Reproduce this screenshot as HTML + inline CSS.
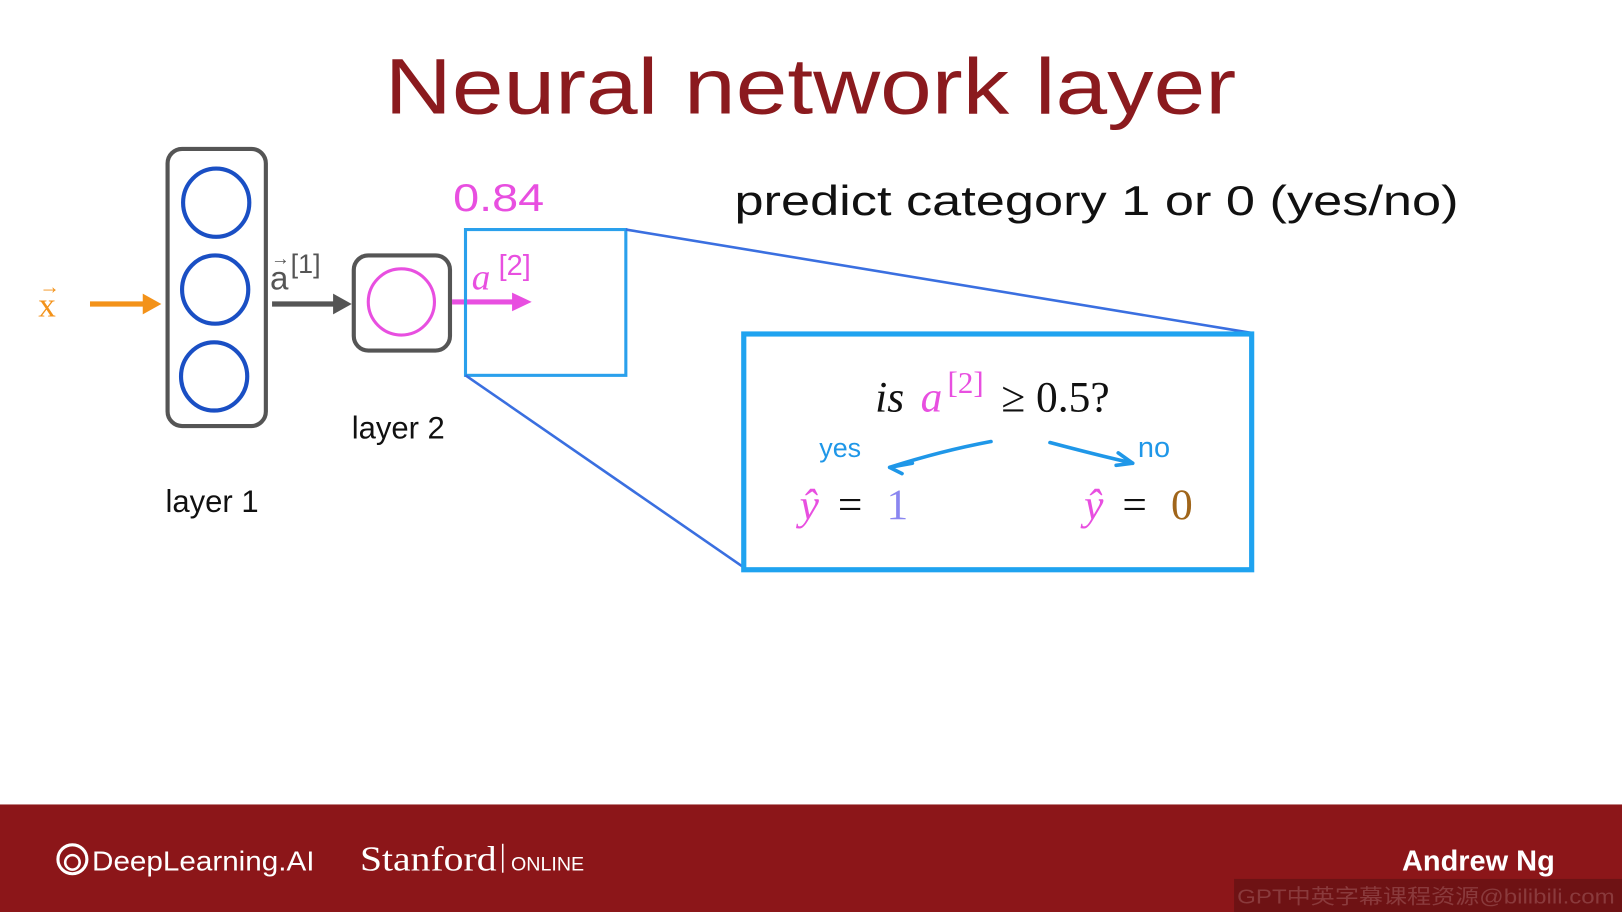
<!DOCTYPE html>
<html><head><meta charset="utf-8"><style>
html,body{margin:0;padding:0;background:#fff;overflow:hidden}
svg{display:block}
</style></head><body>
<svg width="1622" height="912" viewBox="0 0 1568 882" preserveAspectRatio="none" font-family="Liberation Sans, Noto Sans CJK SC, sans-serif">
<rect width="1568" height="882" fill="#fff"/>
<text x="372" y="110" font-size="76" fill="#8b1a1e" textLength="823" lengthAdjust="spacingAndGlyphs">Neural network layer</text>
<text x="710" y="208" font-size="40" fill="#111" textLength="700" lengthAdjust="spacingAndGlyphs">predict category 1 or 0 (yes/no)</text>
<!-- layer 1 -->
<rect x="162" y="144" width="95" height="268" rx="14" fill="none" stroke="#555" stroke-width="4"/>
<ellipse cx="209" cy="196" rx="32" ry="33" fill="none" stroke="#1a4fc4" stroke-width="4"/>
<ellipse cx="208" cy="280" rx="32" ry="33" fill="none" stroke="#1a4fc4" stroke-width="4"/>
<ellipse cx="207" cy="364" rx="32" ry="33" fill="none" stroke="#1a4fc4" stroke-width="4"/>
<text x="205" y="495" text-anchor="middle" font-size="30" fill="#111">layer 1</text>
<!-- x arrow -->
<text x="37" y="306" font-size="34" fill="#f39219" font-family="Liberation Serif, serif">x</text>
<text x="38" y="284" font-size="20" fill="#f39219">→</text>
<line x1="87" y1="294" x2="140" y2="294" stroke="#f39219" stroke-width="5"/>
<polygon points="138,284 156,294 138,304" fill="#f39219"/>
<!-- a1 arrow -->
<text x="261" y="280" font-size="32" fill="#555">a</text>
<text x="262" y="256" font-size="18" fill="#555">→</text>
<text x="281" y="264" font-size="26" fill="#555">[1]</text>
<line x1="263" y1="294" x2="325" y2="294" stroke="#555" stroke-width="5"/>
<polygon points="322,284 340,294 322,304" fill="#555"/>
<!-- layer 2 -->
<rect x="342" y="247" width="93" height="92" rx="14" fill="none" stroke="#555" stroke-width="4"/>
<ellipse cx="388" cy="292" rx="32" ry="32" fill="none" stroke="#e84fe0" stroke-width="3"/>
<text x="385" y="424" text-anchor="middle" font-size="30" fill="#111">layer 2</text>
<!-- a2 arrow -->
<line x1="437" y1="292" x2="498" y2="292" stroke="#e84fe0" stroke-width="5"/>
<polygon points="495,283 514,292 495,301" fill="#e84fe0"/>
<text x="456" y="280" font-size="36" font-style="italic" fill="#e84fe0" font-family="Liberation Serif, serif">a</text>
<text x="482" y="266" font-size="28" fill="#e84fe0">[2]</text>
<text x="438" y="204" font-size="38" fill="#e84fe0" textLength="88" lengthAdjust="spacingAndGlyphs">0.84</text>
<!-- zoom box -->
<rect x="450" y="222" width="155" height="141" fill="none" stroke="#2aa0ec" stroke-width="3"/>
<line x1="605" y1="222" x2="1210" y2="322" stroke="#3a6fe0" stroke-width="2.5"/>
<line x1="450" y1="363" x2="718" y2="548" stroke="#3a6fe0" stroke-width="2.5"/>
<rect x="719" y="323" width="491" height="228" fill="none" stroke="#1fa3f0" stroke-width="5"/>
<g font-family="Liberation Serif, serif" font-size="42">
<text x="846" y="398" font-style="italic" fill="#111">is</text>
<text x="890" y="398" font-style="italic" fill="#e84fe0">a</text>
<text x="916" y="380" font-size="30" fill="#e84fe0">[2]</text>
<text x="968" y="398" fill="#111">≥ 0.5?</text>
<text x="773" y="502" font-style="italic" fill="#e84fe0">ŷ</text>
<text x="810" y="502" fill="#111">=</text>
<text x="857" y="502" fill="#8a86f0">1</text>
<text x="1048" y="502" font-style="italic" fill="#e84fe0">ŷ</text>
<text x="1085" y="502" fill="#111">=</text>
<text x="1132" y="502" fill="#a0651a">0</text>
</g>
<text x="792" y="442" font-size="26" fill="#1f97e8">yes</text>
<text x="1100" y="442" font-size="28" fill="#1f97e8">no</text>
<path d="M958 427 Q910 436 860 452 M860 452 l22 -4 M860 452 l12 6" fill="none" stroke="#1f97e8" stroke-width="3.5" stroke-linecap="round"/>
<path d="M1015 428 Q1060 440 1095 448 M1095 448 l-14 -10 M1095 448 l-16 2" fill="none" stroke="#1f97e8" stroke-width="3.5" stroke-linecap="round"/>
<!-- footer -->
<rect x="0" y="778" width="1568" height="104" fill="#8c1619"/>
<circle cx="70" cy="831" r="14" fill="none" stroke="#fff" stroke-width="3"/>
<circle cx="70" cy="834" r="7" fill="none" stroke="#fff" stroke-width="2.5"/>
<text x="89" y="842" font-size="27" fill="#fff" textLength="215" lengthAdjust="spacingAndGlyphs">DeepLearning.AI</text>
<text x="348" y="842" font-size="34" fill="#fff" font-family="Liberation Serif, serif" textLength="132" lengthAdjust="spacingAndGlyphs">Stanford</text>
<line x1="486" y1="816" x2="486" y2="844" stroke="#fff" stroke-width="1.5"/>
<text x="494" y="842" font-size="19" fill="#fff">ONLINE</text>
<text x="1503" y="842" text-anchor="end" font-size="28" font-weight="bold" fill="#fff">Andrew Ng</text>
<rect x="1193" y="850" width="375" height="32" fill="#6e1214"/>
<text x="1196" y="874" font-size="20" fill="#8a3a3c" textLength="365" lengthAdjust="spacingAndGlyphs">GPT中英字幕课程资源@bilibili.com</text>
</svg>
</body></html>
